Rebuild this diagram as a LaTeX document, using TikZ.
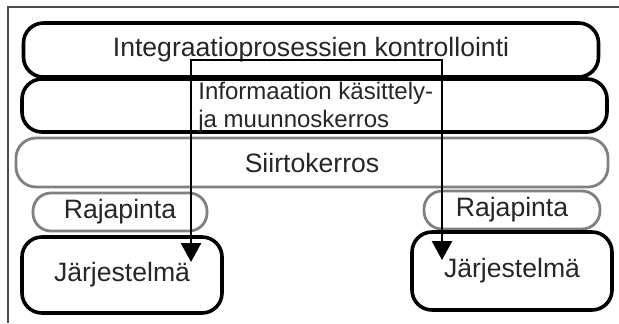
\documentclass[tikz,border=0pt]{standalone}
\usepackage{fontspec}
\setmainfont{Liberation Sans}
\usetikzlibrary{arrows.meta}

\tikzset{
	kerros/.style={draw=black, line width=1.8pt, rounded corners=10pt, inner sep=0pt, text=black!85, font=\fontsize{13.3}{16}\selectfont},
	harmaa/.style={kerros, draw=black!50, line width=1.4pt},
	nuoli/.style={line width=1.4pt, {Triangle[width=10pt,length=9.5pt]}-{Triangle[width=10pt,length=9.5pt]}},
}

\begin{document}
\begin{tikzpicture}[x=0.5pt, y=-0.5pt]
			%%%%% START %%%%%
			
			\useasboundingbox (0, 0) rectangle (619, 323);
			\draw[line width=0.8pt, color=black!70] (619, 7) -| (8, 323);
			
			\node[kerros, minimum width=287.5pt, minimum height=27pt] (kontrollointi) at (311, 50) {Integraatioprosessien kontrollointi};
			\node[kerros, minimum width=292.5pt, minimum height=26.5pt] (kasittely) at (314.5, 105.5) {};
			\node[harmaa, minimum width=296pt, minimum height=24.5pt] (siirto) at (312, 162.5) {Siirtokerros};
			
			\node[harmaa, rounded corners=9pt, minimum width=87pt, minimum height=19pt] (rajapintaV) at (120, 212) {Rajapinta};
			\node[harmaa, rounded corners=9pt, minimum width=88pt, minimum height=19pt] (rajapintaO) at (512, 210) {Rajapinta};
			
			\node[kerros, minimum width=100pt, minimum height=38pt] (jarjestelmaV) at (122, 275) {Järjestelmä};
			\node[kerros, minimum width=100pt, minimum height=39pt] (jarjestelmaO) at (512, 271) {Järjestelmä};
			
			\node[anchor=north west, inner sep=0pt, align=left, text=black!85, font=\fontsize{12}{14}\selectfont] (kasittelyteksti) at (198, 82) {Informaation käsittely-\\ja muunnoskerros};
			
			\coordinate (kulmaV) at (191, 60);
			\coordinate (karkiV) at (191, 262);
			\coordinate (karkiO) at (442, 260);
			\draw[nuoli] (karkiV) -- (kulmaV) -| (karkiO);
			
			%%%%% END %%%%%
		\end{tikzpicture}
\end{document}
